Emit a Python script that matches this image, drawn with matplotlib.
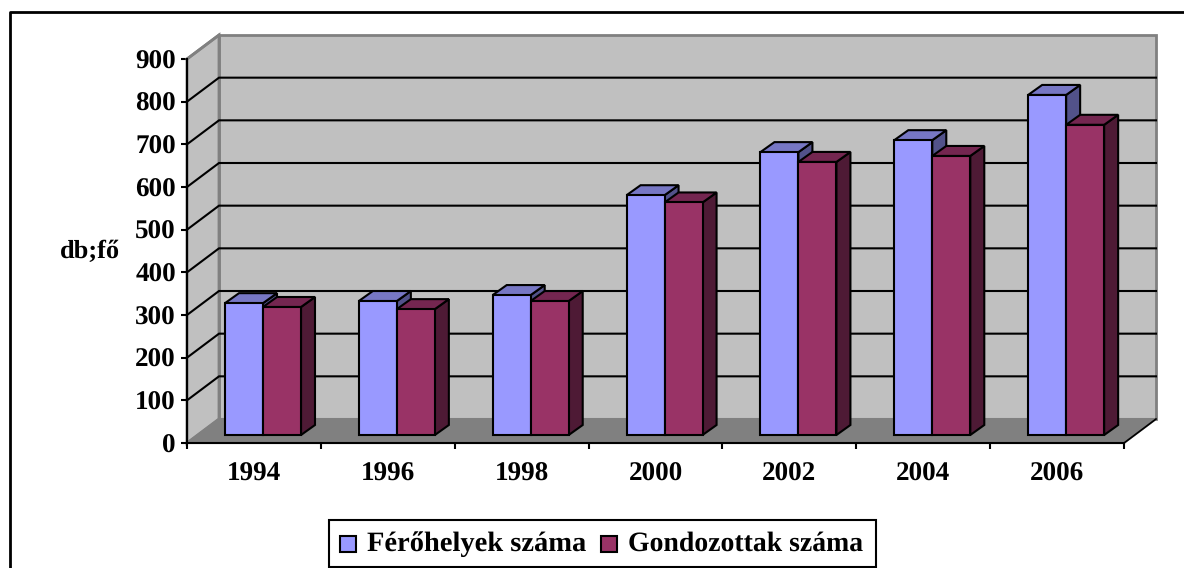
#!/usr/bin/env python3
# 3D looking clustered bars, drawn flat with a projected depth offset
import matplotlib
matplotlib.use("Agg")
import matplotlib.pyplot as plt
from matplotlib.patches import Polygon, Rectangle

years = ["1994", "1996", "1998", "2000", "2002", "2004", "2006"]
ferohelyek = [309, 314, 328, 562, 663, 691, 797]
gondozottak = [300, 295, 314, 545, 640, 654, 727]
y_ticks = [0, 100, 200, 300, 400, 500, 600, 700, 800, 900]

W, H = 1184, 568
# front plane of the chart in pixels
X0, X1, Y0, Y9 = 187, 1124, 443, 59
PX_X = (X1 - X0) / len(years)
PX_Y = (Y0 - Y9) / 900

blue, blue_top, blue_side = "#9999FF", "#7777C4", "#52528A"
red, red_top, red_side = "#993366", "#742650", "#4E1A35"
wall, floor, edge = "#C0C0C0", "#808080", "#808080"

plt.rcParams["font.family"] = ["Liberation Serif"]
plt.rcParams["font.weight"] = "bold"
plt.rcParams["text.hinting"] = "no_hinting"

fig = plt.figure(figsize=(W / 100, H / 100), dpi=100)
ax = fig.add_axes([X0 / W, 1 - Y0 / H, (X1 - X0) / W, (Y0 - Y9) / H])
ax.set_xlim(0, len(years))
ax.set_ylim(0, 900)

# depth of the box and of the bars, in data units
dx, dy = 32 / PX_X, 24 / PX_Y
bar_dx, bar_dy = 14 / PX_X, 10 / PX_Y
base = 8 / PX_Y
bar_w = 38 / PX_X
n = len(years)

ax.add_patch(Polygon([(dx, dy), (n + dx, dy), (n + dx, 900 + dy), (dx, 900 + dy)],
                     fc=wall, ec=edge, lw=2, clip_on=False, zorder=1))
ax.add_patch(Polygon([(0, 0), (dx, dy), (dx, 900 + dy), (0, 900)],
                     fc=wall, ec=edge, lw=2, clip_on=False, zorder=1))
ax.add_patch(Polygon([(0, 0), (n, 0), (n + dx, dy), (dx, dy)],
                     fc=floor, ec=edge, lw=1.5, clip_on=False, zorder=1))

for v in y_ticks[1:-1]:
    ax.plot([0, dx, n + dx], [v, v + dy, v + dy], color="black", lw=1.5,
            clip_on=False, zorder=2, solid_joinstyle="miter")
ax.plot([n, n + dx], [0, dy], color="black", lw=1.2, clip_on=False, zorder=2)
ax.plot([0, dx], [900, 900 + dy], color=edge, lw=2, clip_on=False, zorder=2)


def bar3d(x, v, front, top, side, z):
    ax.add_patch(Polygon([(x + bar_w, base), (x + bar_w + bar_dx, base + bar_dy),
                          (x + bar_w + bar_dx, base + v + bar_dy), (x + bar_w, base + v)],
                         fc=side, ec="black", lw=1.5, clip_on=False, zorder=z))
    ax.add_patch(Polygon([(x, base + v), (x + bar_dx, base + v + bar_dy),
                          (x + bar_w + bar_dx, base + v + bar_dy), (x + bar_w, base + v)],
                         fc=top, ec="black", lw=1.5, clip_on=False, zorder=z))
    ax.bar(x, v, bar_w, bottom=base, align="edge", color=front, edgecolor="black",
           linewidth=1.5, zorder=z + 0.1, clip_on=False)


start = 38 / PX_X
for i in range(n):
    bar3d(i + start, ferohelyek[i], blue, blue_top, blue_side, 3)
    bar3d(i + start + bar_w, gondozottak[i], red, red_top, red_side, 4)

for s in ["top", "right"]:
    ax.spines[s].set_visible(False)
for s in ["left", "bottom"]:
    ax.spines[s].set_linewidth(1.5)
    ax.spines[s].set_zorder(5)

ax.set_yticks(y_ticks)
ax.set_yticklabels([str(v) for v in y_ticks], fontsize=19.5, fontweight="bold")
ax.set_xticks(range(n + 1))
ax.set_xticklabels([""] * (n + 1))
ax.tick_params(axis="both", length=4, width=1.5, direction="out", pad=4, color="black")
for i, y in enumerate(years):
    ax.annotate(y, (i + 0.5, 0), xytext=(0, -31), textcoords="offset pixels",
                ha="center", va="center", fontsize=19.5, fontweight="bold")

fig.text(90 / W, 1 - 252 / H, "db;fő", ha="center", va="center", fontsize=19, fontweight="bold")

# outer frame
fig.add_artist(plt.Line2D([10 / W, 10 / W, 1 + 2 / W], [-0.01, 1 - 12 / H, 1 - 12 / H],
                          color="black", lw=2))

# legend box
fig.add_artist(Rectangle((329 / W, 1 - 567 / H), 547 / W, 47 / H, transform=fig.transFigure,
                         fc="white", ec="black", lw=1.5))
for sx, c in [(340, blue), (601, red)]:
    fig.add_artist(Rectangle((sx / W, 1 - 552 / H), 16 / W, 16 / H, transform=fig.transFigure,
                             fc=c, ec="black", lw=1.5))
fig.text(367 / W, 1 - 544 / H, "Férőhelyek száma", va="center", fontsize=20.5, fontweight="bold")
fig.text(628 / W, 1 - 544 / H, "Gondozottak száma", va="center", fontsize=20, fontweight="bold")

fig.savefig("out.png", dpi=100)
